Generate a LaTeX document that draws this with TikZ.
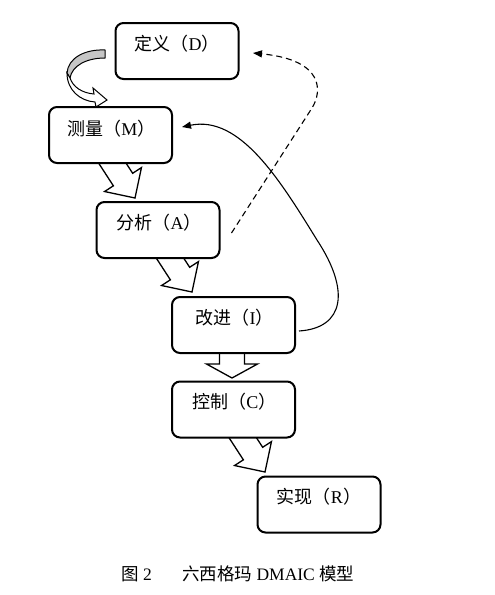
\documentclass[tikz,border=0pt]{standalone}
\usepackage{fontspec}
\setmainfont{Liberation Serif}
\newfontfamily\cjk{Noto Sans CJK SC}
\usetikzlibrary{arrows.meta}
\begin{document}
\begin{tikzpicture}[x=1pt,y=-1pt,
  stepbox/.style={draw, line width=2pt, rounded corners=8pt, fill=white, minimum width=123pt, minimum height=56pt, inner sep=0pt},
  boxtext/.style={font=\fontsize{18}{20}\selectfont, inner sep=0pt, anchor=center},
  blockarrow/.style={draw, line width=1.3pt, fill=white, line join=miter},
  link/.style={line width=1.1pt, -{Triangle[length=9pt,width=7pt]}},
  captext/.style={font=\fontsize{17.5}{20}\selectfont, inner sep=0pt, anchor=west},
]
\useasboundingbox (0,0) rectangle (495,595);

% block arrows (drawn first, boxes cover their tails)
\coordinate (tipMA) at (135,198);
\coordinate (tipAI) at (192,292);
\coordinate (tipCR) at (265,472);
\coordinate (tipIC) at (232,378);
\foreach \t in {tipMA,tipAI,tipCR}{
  \begin{scope}[shift={(\t)}, rotate=-57]
    \draw[blockarrow] (0,0) -- (-22,22) -- (-22,11.5) -- (-64,11.5) -- (-64,-11.5) -- (-22,-11.5) -- (-22,-22) -- cycle;
  \end{scope}
}
\begin{scope}[shift={(tipIC)}, rotate=-90]
  \draw[blockarrow] (0,0) -- (-14,25.5) -- (-14,12.5) -- (-34,12.5) -- (-34,-12.5) -- (-14,-12.5) -- (-14,-25.5) -- cycle;
\end{scope}

% boxes
\node[stepbox] (D) at (177,51) {};
\node[stepbox] (M) at (110.5,135) {};
\node[stepbox] (A) at (158,230) {};
\node[stepbox] (I) at (233.5,325) {};
\node[stepbox] (C) at (233.5,409.5) {};
\node[stepbox] (R) at (319,504.5) {};

\node[boxtext] (Dt) at ([xshift=0pt,yshift=-22pt]D.north) {{\cjk 定义（}D{\cjk ）}};
\node[boxtext] (Mt) at ([xshift=1pt,yshift=-23pt]M.north) {{\cjk 测量（}M{\cjk ）}};
\node[boxtext] (At) at ([xshift=1pt,yshift=-22pt]A.north) {{\cjk 分析（}A{\cjk ）}};
\node[boxtext] (It) at ([xshift=1pt,yshift=-22pt]I.north) {{\cjk 改进（}I{\cjk ）}};
\node[boxtext] (Ct) at ([xshift=1pt,yshift=-21pt]C.north) {{\cjk 控制（}C{\cjk ）}};
\node[boxtext] (Rt) at ([xshift=0pt,yshift=-21pt]R.north) {{\cjk 实现（}R{\cjk ）}};

% curved block arrow D -> M
\draw[line width=1pt, fill=gray!45, line join=miter] (105,50) .. controls (85,49) and (68,58) .. (67,73) -- (70,78) .. controls (72,66) and (86,58) .. (105,58) -- cycle;
\draw[line width=1pt, fill=white, line join=miter] (67,73) .. controls (67,90) and (80,101) .. (95,102) -- (96,107) -- (107,100) -- (93,88) -- (94,94) .. controls (82,93) and (73,87) .. (70,78) -- cycle;

% I -> M solid curve
\coordinate (Iout) at ([xshift=3pt,yshift=-6pt]I.east);
\coordinate (Min) at ([xshift=9pt,yshift=8pt]M.east);
\draw[link] (Iout) .. controls (345,328) and (350,290) .. (317,240) .. controls (280,180) and (240,115) .. (Min);

% A -> D dashed curve
\coordinate (Aout) at ([xshift=11pt,yshift=-3pt]A.east);
\coordinate (Din) at ([xshift=13.5pt,yshift=-2pt]D.east);
\draw[link, dash pattern=on 6pt off 4pt] (Aout) -- (312,108) .. controls (322,92) and (325,60) .. (Din);

% caption
\node[captext] (cap1) at (121,574) {{\cjk 图} 2};
\node[captext] (cap2) at (182,574) {{\cjk 六西格玛} DMAIC {\cjk 模型}};
\end{tikzpicture}
\end{document}
